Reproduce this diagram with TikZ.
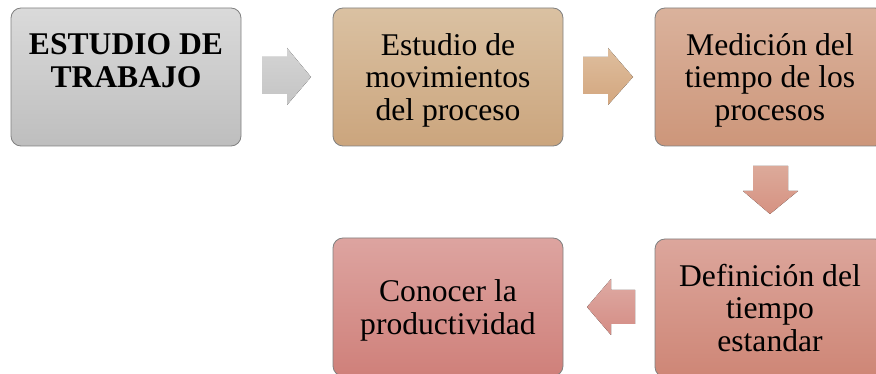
\documentclass[tikz,border=0pt]{standalone}
\usepackage{fontspec}
\setmainfont{Liberation Serif}
\begin{document}
\begin{tikzpicture}[x=0.75pt,y=-0.75pt,
  box/.style={rounded corners=7.5pt, draw=black!50, line width=0.6pt,
    minimum width=172.5pt, minimum height=103.5pt, inner sep=0pt,
    align=center, font=\fontsize{23.7}{24.4}\selectfont},
  lower/.style={text depth=0pt}]
\useasboundingbox (0,0) rectangle (876,374);
\node[box, top color={rgb,255:red,218;green,218;blue,218}, bottom color={rgb,255:red,190;green,190;blue,190}] (b1) at (126,77) {\textbf{ESTUDIO DE}\\\textbf{TRABAJO}\\\mbox{}};
\node[box, lower, top color={rgb,255:red,218;green,193;blue,162}, bottom color={rgb,255:red,203;green,165;blue,125}] (b2) at (448,77) {Estudio de\\movimientos\\del proceso};
\node[box, lower, top color={rgb,255:red,218;green,178;blue,156}, bottom color={rgb,255:red,205;green,150;blue,122}] (b3) at (770,77) {Medición del\\tiempo de los\\procesos};
\node[box, top color={rgb,255:red,220;green,166;blue,156}, bottom color={rgb,255:red,206;green,134;blue,118}] (b4) at (770,308) {Definición del\\tiempo\\estandar};
\node[box, lower, top color={rgb,255:red,221;green,164;blue,160}, bottom color={rgb,255:red,207;green,128;blue,122}] (b5) at (448,307) {Conocer la\\productividad};
% block arrows
\fill[top color={rgb,255:red,212;green,212;blue,212}, bottom color={rgb,255:red,196;green,196;blue,196}]
  (262,57) -- (287,57) -- (287,48) -- (311,77) -- (287,105) -- (287,94) -- (262,94) -- cycle;
\fill[top color={rgb,255:red,222;green,190;blue,158}, bottom color={rgb,255:red,211;green,166;blue,126}]
  (583,57) -- (608,57) -- (608,48) -- (633,77) -- (608,105) -- (608,94) -- (583,94) -- cycle;
\fill[top color={rgb,255:red,220;green,170;blue,154}, bottom color={rgb,255:red,214;green,146;blue,130}]
  (753,166) -- (788,166) -- (788,191) -- (798,191) -- (770,214) -- (743,191) -- (753,191) -- cycle;
\fill[top color={rgb,255:red,222;green,170;blue,163}, bottom color={rgb,255:red,212;green,140;blue,132}]
  (635,290) -- (611,290) -- (611,279) -- (587,307) -- (611,335) -- (611,324) -- (635,324) -- cycle;
\end{tikzpicture}
\end{document}
